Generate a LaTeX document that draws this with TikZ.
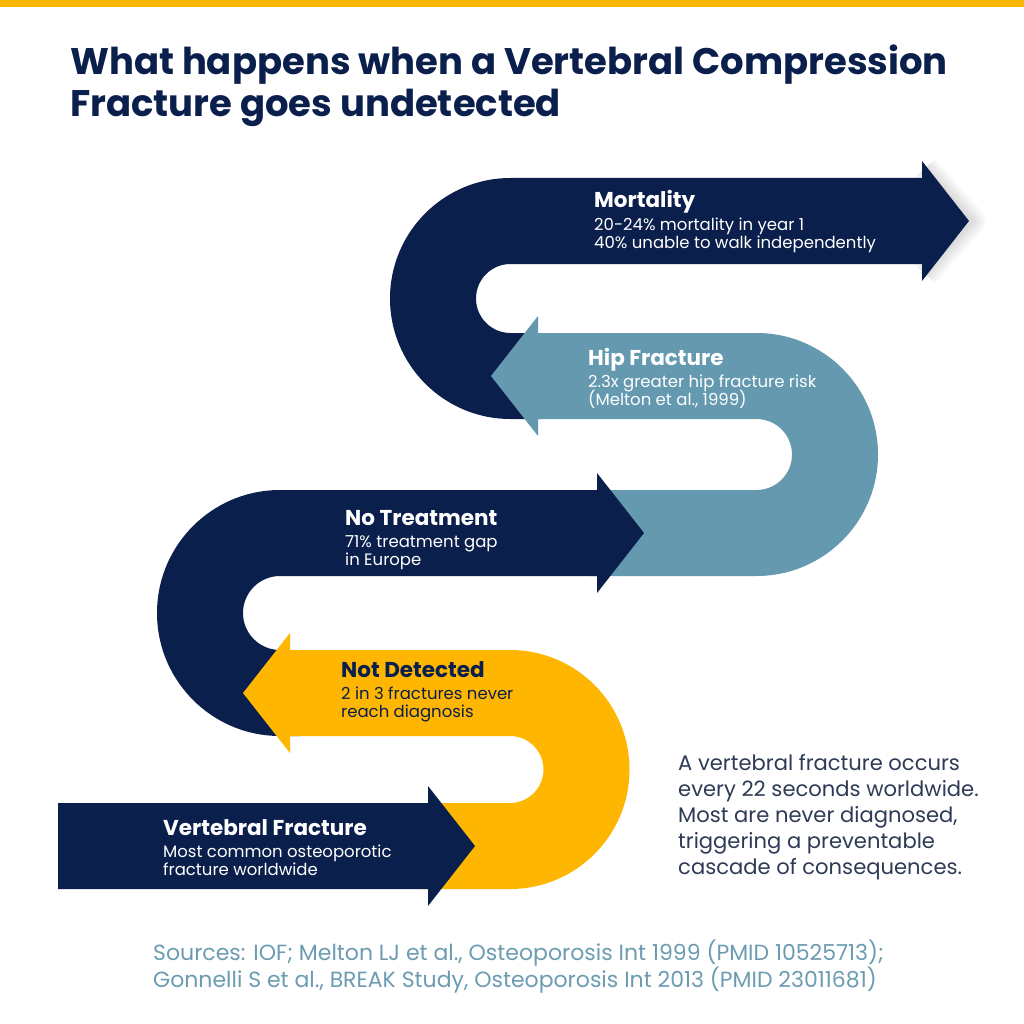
\documentclass[tikz,border=0pt]{standalone}
\usepackage{fontspec}
\setmainfont{Poppins}
\definecolor{navyband}{HTML}{0A1F4B}
\definecolor{amberband}{HTML}{FFB600}
\definecolor{steelband}{HTML}{6499B0}
\definecolor{slatetext}{HTML}{2F3B56}
\definecolor{sourcetext}{HTML}{6C9CB2}

\begin{document}
\begin{tikzpicture}[
        x=1pt, y=-1pt,
        title text/.style={font=\bfseries\fontsize{37}{42}\selectfont, text=navyband, anchor=base west, inner sep=0pt},
        step head/.style={font=\bfseries\fontsize{21.5}{24}\selectfont, anchor=base west, inner sep=0pt},
        step line/.style={font=\fontsize{16.5}{18}\selectfont, anchor=base west, inner sep=0pt},
        note line/.style={font=\fontsize{21.1}{26}\selectfont, text=slatetext, anchor=base west, inner sep=0pt},
        source line/.style={font=\fontsize{22}{27}\selectfont, text=sourcetext, anchor=base west, inner sep=0pt},
    ]

    \useasboundingbox (0,0) rectangle (1024,1024);
    \fill[white] (0,0) rectangle (1024,1024);
    \fill[amberband] (0,0) rectangle (1024,7);

    % Tiêu đề
    \node[title text] (title-1) at (70,75) {What happens when a Vertebral Compression};
    \node[title text] (title-2) at (70,117) {Fracture goes undetected};

    % Bóng mờ sau mũi tên trên cùng
    \foreach \w in {4,8,...,28} {
        \draw[black, opacity=0.018, line width=\w, line join=round]
            (925,168) -- (972,221) -- (925,274);
    }

    % Các khúc quanh: tâm x/y, bán kính ngoài, bán kính trong, phía (-1 trái, 1 phải), đáy mũi tên, đầu khuất, màu
    \foreach \cx/\cy/\outR/\inR/\side/\hx/\ex/\col in {%
        510.5/298.5/120.5/34.5/-1/922/540/navyband,%
        756.5/454.5/121.5/35.5/1/538/590/steelband,%
        280/613/123/37/-1/597/300/navyband,%
        510/769.5/119.5/33.5/1/290/420/amberband} {
        \pgfmathsetmacro{\aStart}{90 - 180*\side}
        \pgfmathsetmacro{\tipX}{\hx - 47*\side}
        \pgfmathsetmacro{\tipY}{\cy - (\outR + \inR)/2}
        \fill[\col] (\hx, \cy-\outR) -- (\cx, \cy-\outR)
            arc[start angle=\aStart, end angle=90, radius=\outR]
            -- (\ex, \cy+\outR) -- (\ex, \cy+\inR) -- (\cx, \cy+\inR)
            arc[start angle=90, end angle=\aStart, radius=\inR]
            -- (\hx, \cy-\inR) -- (\hx, \cy-\inR+17) -- (\tipX, \tipY)
            -- (\hx, \cy-\outR-17) -- cycle;
    }

    % Mũi tên đầu tiên
    \fill[navyband] (58,803) -- (428,803) -- (428,786) -- (475,846)
        -- (428,906) -- (428,889) -- (58,889) -- cycle;

    % Nhãn trên các mũi tên
    \foreach \lx/\ly/\tcol/\head/\lineA/\lineB [count=\i] in {%
        594/208/white/Mortality/{20-24\% mortality in year 1}/{40\% unable to walk independently},%
        588/365/white/Hip Fracture/{2.3x greater hip fracture risk}/{(Melton et al., 1999)},%
        345/525/white/No Treatment/{71\% treatment gap}/{in Europe},%
        341/677/navyband/Not Detected/{2 in 3 fractures never}/{reach diagnosis},%
        163/835/white/Vertebral Fracture/{Most common osteoporotic}/{fracture worldwide}} {
        \node[step head, text=\tcol] (step-\i) at (\lx, \ly) {\head};
        \node[step line, text=\tcol] (step-\i-a) at (\lx, \ly+22) {\lineA};
        \node[step line, text=\tcol] (step-\i-b) at (\lx, \ly+40) {\lineB};
    }

    % Đoạn ghi chú bên phải
    \foreach \txt [count=\i from 0] in {%
        A vertebral fracture occurs,%
        every 22 seconds worldwide.,%
        {Most are never diagnosed,},%
        triggering a preventable,%
        cascade of consequences.} {
        \node[note line] (note-\i) at (678, 770+26*\i) {\txt};
    }

    % Nguồn
    \node[source line] (source-1) at (153,960) {Sources: IOF; Melton LJ et al., Osteoporosis Int 1999 (PMID 10525713);};
    \node[source line] (source-2) at (153,987) {Gonnelli S et al., BREAK Study, Osteoporosis Int 2013 (PMID 23011681)};

\end{tikzpicture}
\end{document}
